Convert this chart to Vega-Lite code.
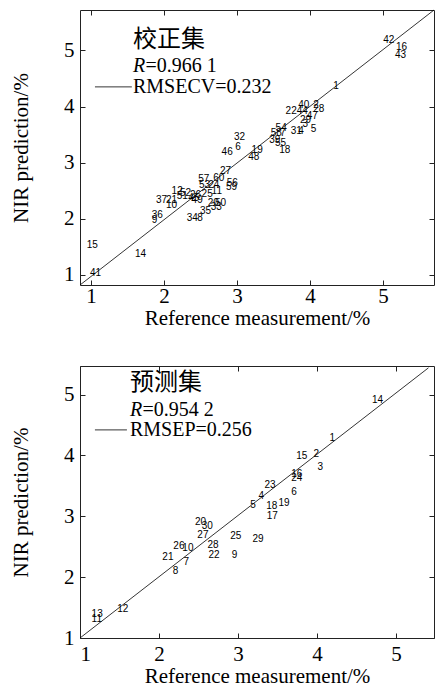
{
  "$schema": "https://vega.github.io/schema/vega-lite/v6.json",
  "autosize": {"type": "pad"},
  "padding": {"left": 10, "top": 7, "right": 3, "bottom": 5},
  "background": "white",
  "config": {
    "view": {"stroke": "#222", "strokeWidth": 1},
    "axis": {
      "grid": false, "domain": false, "tickSize": -5, "tickColor": "#222", "tickWidth": 1,
      "labelFont": "Liberation Serif", "labelFontSize": 21, "labelColor": "black",
      "titleFont": "Liberation Serif", "titleFontSize": 21, "titleFontWeight": "normal", "titleColor": "black"
    }
  },
  "datasets": {
    "cal": [
      {"id": "42", "x": 5.004, "y": 5.189}, {"id": "16", "x": 5.178, "y": 5.059}, {"id": "43", "x": 5.164, "y": 4.922},
      {"id": "1", "x": 4.319, "y": 4.358}, {"id": "22", "x": 3.667, "y": 3.913}, {"id": "44", "x": 3.818, "y": 3.913},
      {"id": "40", "x": 3.84, "y": 4.03}, {"id": "2", "x": 4.045, "y": 4.03}, {"id": "28", "x": 4.045, "y": 3.954},
      {"id": "47", "x": 3.955, "y": 3.824}, {"id": "29", "x": 3.863, "y": 3.763}, {"id": "3", "x": 3.9, "y": 3.692},
      {"id": "31", "x": 3.736, "y": 3.567}, {"id": "4", "x": 3.84, "y": 3.567}, {"id": "5", "x": 4.01, "y": 3.597},
      {"id": "54", "x": 3.53, "y": 3.615}, {"id": "58", "x": 3.462, "y": 3.526}, {"id": "7", "x": 3.589, "y": 3.526},
      {"id": "39", "x": 3.443, "y": 3.396}, {"id": "55", "x": 3.521, "y": 3.348}, {"id": "18", "x": 3.58, "y": 3.228},
      {"id": "32", "x": 2.959, "y": 3.455}, {"id": "6", "x": 2.977, "y": 3.276}, {"id": "46", "x": 2.79, "y": 3.187},
      {"id": "19", "x": 3.201, "y": 3.228}, {"id": "48", "x": 3.155, "y": 3.098}, {"id": "27", "x": 2.767, "y": 2.843},
      {"id": "57", "x": 2.47, "y": 2.711}, {"id": "60", "x": 2.675, "y": 2.724}, {"id": "53", "x": 2.479, "y": 2.604},
      {"id": "24", "x": 2.607, "y": 2.604}, {"id": "56", "x": 2.859, "y": 2.634}, {"id": "59", "x": 2.849, "y": 2.558},
      {"id": "11", "x": 2.653, "y": 2.487}, {"id": "25", "x": 2.516, "y": 2.444}, {"id": "12", "x": 2.105, "y": 2.487},
      {"id": "52", "x": 2.219, "y": 2.456}, {"id": "51", "x": 2.174, "y": 2.407}, {"id": "26", "x": 2.356, "y": 2.426},
      {"id": "45", "x": 2.333, "y": 2.367}, {"id": "49", "x": 2.379, "y": 2.337}, {"id": "37", "x": 1.89, "y": 2.337},
      {"id": "21", "x": 2.027, "y": 2.337}, {"id": "10", "x": 2.027, "y": 2.248}, {"id": "20", "x": 2.599, "y": 2.278},
      {"id": "50", "x": 2.699, "y": 2.278}, {"id": "33", "x": 2.64, "y": 2.207}, {"id": "35", "x": 2.493, "y": 2.13},
      {"id": "34", "x": 2.311, "y": 2.011}, {"id": "8", "x": 2.456, "y": 2.011}, {"id": "36", "x": 1.832, "y": 2.07},
      {"id": "9", "x": 1.832, "y": 1.98}, {"id": "15", "x": 0.941, "y": 1.535}, {"id": "14", "x": 1.603, "y": 1.374},
      {"id": "41", "x": 0.986, "y": 1.03}
    ],
    "pred": [
      {"id": "14", "x": 4.696, "y": 4.918}, {"id": "1", "x": 4.159, "y": 4.291}, {"id": "15", "x": 3.736, "y": 3.992},
      {"id": "2", "x": 3.956, "y": 4.018}, {"id": "3", "x": 4.006, "y": 3.817}, {"id": "16", "x": 3.673, "y": 3.691},
      {"id": "24", "x": 3.673, "y": 3.637}, {"id": "23", "x": 3.335, "y": 3.511}, {"id": "4", "x": 3.259, "y": 3.326},
      {"id": "6", "x": 3.673, "y": 3.403}, {"id": "5", "x": 3.153, "y": 3.183}, {"id": "18", "x": 3.356, "y": 3.162},
      {"id": "19", "x": 3.512, "y": 3.216}, {"id": "17", "x": 3.364, "y": 3.01}, {"id": "20", "x": 2.456, "y": 2.9},
      {"id": "30", "x": 2.541, "y": 2.835}, {"id": "27", "x": 2.485, "y": 2.699}, {"id": "25", "x": 2.9, "y": 2.682},
      {"id": "29", "x": 3.183, "y": 2.627}, {"id": "26", "x": 2.181, "y": 2.519}, {"id": "10", "x": 2.295, "y": 2.475},
      {"id": "28", "x": 2.612, "y": 2.535}, {"id": "22", "x": 2.625, "y": 2.365}, {"id": "9", "x": 2.921, "y": 2.365},
      {"id": "21", "x": 2.042, "y": 2.339}, {"id": "7", "x": 2.309, "y": 2.257}, {"id": "8", "x": 2.174, "y": 2.098},
      {"id": "12", "x": 1.471, "y": 1.471}, {"id": "13", "x": 1.147, "y": 1.399}, {"id": "11", "x": 1.147, "y": 1.318}
    ],
    "calLine": [{"x": 0.85, "y": 0.82}, {"x": 5.70, "y": 5.72}],
    "predLine": [{"x": 1.0, "y": 1.0}, {"x": 5.41, "y": 5.44}],
    "calTitle": [{"x": 1.575, "y": 5.19, "t": "校正集"}],
    "calR": [{"x": 1.575, "y": 4.72, "t": "R", "v": "=0.966 1"}],
    "calStat": [{"x": 1.575, "y": 4.355, "t": "RMSECV=0.232"}],
    "calSeg": [{"x": 1.055, "x2": 1.56, "y": 4.35}],
    "predTitle": [{"x": 1.632, "y": 5.19, "t": "预测集"}],
    "predR": [{"x": 1.632, "y": 4.75, "t": "R", "v": "=0.954 2"}],
    "predStat": [{"x": 1.632, "y": 4.422, "t": "RMSEP=0.256"}],
    "predSeg": [{"x": 1.189, "x2": 1.594, "y": 4.42}]
  },
  "vconcat": [
    {
      "width": 354, "height": 275,
      "layer": [
        {
          "data": {"name": "calLine"},
          "mark": {"type": "line", "color": "black", "strokeWidth": 0.8},
          "encoding": {
            "x": {"field": "x", "type": "quantitative", "scale": {"domain": [0.85, 5.70], "nice": false, "zero": false},
                  "axis": {"orient": "top", "labels": false, "title": null, "values": [1, 2, 3, 4, 5]}},
            "y": {"field": "y", "type": "quantitative", "scale": {"domain": [0.82, 5.72], "nice": false, "zero": false},
                  "axis": {"orient": "right", "labels": false, "title": null, "values": [1, 2, 3, 4, 5]}}
          }
        },
        {
          "data": {"name": "cal"},
          "mark": {"type": "text", "align": "left", "baseline": "middle", "font": "Liberation Sans", "fontSize": 10, "color": "black"},
          "encoding": {
            "x": {"field": "x", "type": "quantitative", "scale": {"domain": [0.85, 5.70], "nice": false, "zero": false},
                  "axis": {"orient": "bottom", "values": [1, 2, 3, 4, 5], "title": "Reference measurement/%", "labelPadding": 5.5, "titlePadding": 1}},
            "y": {"field": "y", "type": "quantitative", "scale": {"domain": [0.82, 5.72], "nice": false, "zero": false},
                  "axis": {"orient": "left", "values": [1, 2, 3, 4, 5], "title": "NIR prediction/%", "labelPadding": 11, "titlePadding": 32}},
            "text": {"field": "id"}
          }
        },
        {
          "data": {"name": "calTitle"},
          "mark": {"type": "text", "align": "left", "baseline": "middle", "font": "Noto Sans CJK SC", "fontSize": 24, "color": "black"},
          "encoding": {
            "x": {"field": "x", "type": "quantitative", "axis": null},
            "y": {"field": "y", "type": "quantitative", "axis": null},
            "text": {"field": "t"}
          }
        },
        {
          "data": {"name": "calR"},
          "mark": {"type": "text", "align": "left", "baseline": "middle", "font": "Liberation Serif", "fontStyle": "italic", "fontSize": 20, "color": "black"},
          "encoding": {
            "x": {"field": "x", "type": "quantitative", "axis": null},
            "y": {"field": "y", "type": "quantitative", "axis": null},
            "text": {"field": "t"}
          }
        },
        {
          "data": {"name": "calR"},
          "mark": {"type": "text", "align": "left", "baseline": "middle", "font": "Liberation Serif", "fontSize": 20, "dx": 12.5, "color": "black"},
          "encoding": {
            "x": {"field": "x", "type": "quantitative", "axis": null},
            "y": {"field": "y", "type": "quantitative", "axis": null},
            "text": {"field": "v"}
          }
        },
        {
          "data": {"name": "calStat"},
          "mark": {"type": "text", "align": "left", "baseline": "middle", "font": "Liberation Serif", "fontSize": 20, "color": "black"},
          "encoding": {
            "x": {"field": "x", "type": "quantitative", "axis": null},
            "y": {"field": "y", "type": "quantitative", "axis": null},
            "text": {"field": "t"}
          }
        },
        {
          "data": {"name": "calSeg"},
          "mark": {"type": "rule", "color": "black", "strokeWidth": 0.8},
          "encoding": {
            "x": {"field": "x", "type": "quantitative", "axis": null},
            "x2": {"field": "x2"},
            "y": {"field": "y", "type": "quantitative", "axis": null}
          }
        }
      ]
    },
    {
      "width": 354, "height": 272,
      "layer": [
        {
          "data": {"name": "predLine"},
          "mark": {"type": "line", "color": "black", "strokeWidth": 0.8},
          "encoding": {
            "x": {"field": "x", "type": "quantitative", "scale": {"domain": [1.0, 5.48], "nice": false, "zero": false},
                  "axis": {"orient": "top", "labels": false, "title": null, "values": [1, 2, 3, 4, 5]}},
            "y": {"field": "y", "type": "quantitative", "scale": {"domain": [1.0, 5.47], "nice": false, "zero": false},
                  "axis": {"orient": "right", "labels": false, "title": null, "values": [1, 2, 3, 4, 5]}}
          }
        },
        {
          "data": {"name": "pred"},
          "mark": {"type": "text", "align": "left", "baseline": "middle", "font": "Liberation Sans", "fontSize": 10, "color": "black"},
          "encoding": {
            "x": {"field": "x", "type": "quantitative", "scale": {"domain": [1.0, 5.48], "nice": false, "zero": false},
                  "axis": {"orient": "bottom", "values": [1, 2, 3, 4, 5], "title": "Reference measurement/%", "labelPadding": 10.5, "titlePadding": 1}},
            "y": {"field": "y", "type": "quantitative", "scale": {"domain": [1.0, 5.47], "nice": false, "zero": false},
                  "axis": {"orient": "left", "values": [1, 2, 3, 4, 5], "title": "NIR prediction/%", "labelPadding": 11, "titlePadding": 32}},
            "text": {"field": "id"}
          }
        },
        {
          "data": {"name": "predTitle"},
          "mark": {"type": "text", "align": "left", "baseline": "middle", "font": "Noto Sans CJK SC", "fontSize": 24, "color": "black"},
          "encoding": {
            "x": {"field": "x", "type": "quantitative", "axis": null},
            "y": {"field": "y", "type": "quantitative", "axis": null},
            "text": {"field": "t"}
          }
        },
        {
          "data": {"name": "predR"},
          "mark": {"type": "text", "align": "left", "baseline": "middle", "font": "Liberation Serif", "fontStyle": "italic", "fontSize": 20, "color": "black"},
          "encoding": {
            "x": {"field": "x", "type": "quantitative", "axis": null},
            "y": {"field": "y", "type": "quantitative", "axis": null},
            "text": {"field": "t"}
          }
        },
        {
          "data": {"name": "predR"},
          "mark": {"type": "text", "align": "left", "baseline": "middle", "font": "Liberation Serif", "fontSize": 20, "dx": 12.5, "color": "black"},
          "encoding": {
            "x": {"field": "x", "type": "quantitative", "axis": null},
            "y": {"field": "y", "type": "quantitative", "axis": null},
            "text": {"field": "v"}
          }
        },
        {
          "data": {"name": "predStat"},
          "mark": {"type": "text", "align": "left", "baseline": "middle", "font": "Liberation Serif", "fontSize": 20, "color": "black"},
          "encoding": {
            "x": {"field": "x", "type": "quantitative", "axis": null},
            "y": {"field": "y", "type": "quantitative", "axis": null},
            "text": {"field": "t"}
          }
        },
        {
          "data": {"name": "predSeg"},
          "mark": {"type": "rule", "color": "black", "strokeWidth": 0.8},
          "encoding": {
            "x": {"field": "x", "type": "quantitative", "axis": null},
            "x2": {"field": "x2"},
            "y": {"field": "y", "type": "quantitative", "axis": null}
          }
        }
      ]
    }
  ],
  "spacing": 81,
  "bounds": "flush"
}
